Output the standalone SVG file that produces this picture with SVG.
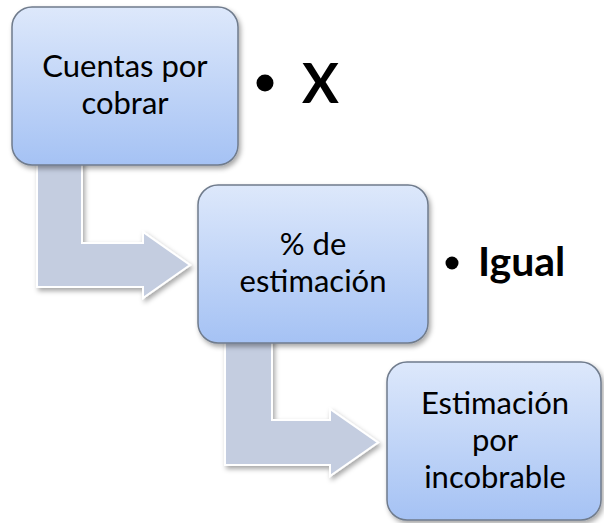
<svg xmlns="http://www.w3.org/2000/svg" width="604" height="523" viewBox="0 0 604 523">
<style>
.box{fill:url(#g);stroke:#6f7b8c;stroke-width:1.5;filter:url(#sh)}
.arr{fill:#c4cde0;stroke:#ffffff;stroke-width:2;filter:url(#sh)}
.t{font-family:Lato,"Open Sans",sans-serif;font-size:31px;fill:#000;text-anchor:middle}
.b{font-family:Lato,"Open Sans",sans-serif;font-weight:bold;fill:#000}
</style>
<defs>
<linearGradient id="g" x1="0" y1="0" x2="0" y2="1">
<stop offset="0" stop-color="#dde8fb"/>
<stop offset="1" stop-color="#a5c2f4"/>
</linearGradient>
<filter id="sh" x="-10%" y="-10%" width="125%" height="125%">
<feDropShadow dx="2" dy="3" stdDeviation="2.5" flood-color="#000" flood-opacity="0.35"/>
</filter>
</defs>
<g id="connectors">
<path class="arr" d="M37,160 L82,160 L82,243 L143,243 L143,232 L190,265 L143,298 L143,287 L37,287 Z"/>
<path class="arr" d="M225,338 L272,338 L272,420 L330,420 L330,409 L378,442.5 L330,476 L330,465 L225,465 Z"/>
</g>
<g id="node1">
<rect class="box" x="12" y="7" width="226" height="158" rx="20"/>
<text class="t" x="125" y="77">Cuentas por</text>
<text class="t" x="125" y="114">cobrar</text>
</g>
<g id="node2">
<rect class="box" x="198" y="185" width="230" height="158" rx="20"/>
<text class="t" x="313" y="255">% de</text>
<text class="t" x="313" y="292">estimación</text>
</g>
<g id="node3">
<rect class="box" x="387" y="362" width="214" height="158" rx="20"/>
<text class="t" x="495" y="414">Estimación</text>
<text class="t" x="495" y="451">por</text>
<text class="t" x="495" y="488">incobrable</text>
</g>
<g id="label1">
<circle cx="265" cy="83" r="8.5" fill="#000"/>
<text class="b" x="302" y="103" font-size="55">X</text>
</g>
<g id="label2">
<circle cx="452" cy="263" r="6.5" fill="#000"/>
<text class="b" x="478" y="276" font-size="41">Igual</text>
</g>
</svg>
